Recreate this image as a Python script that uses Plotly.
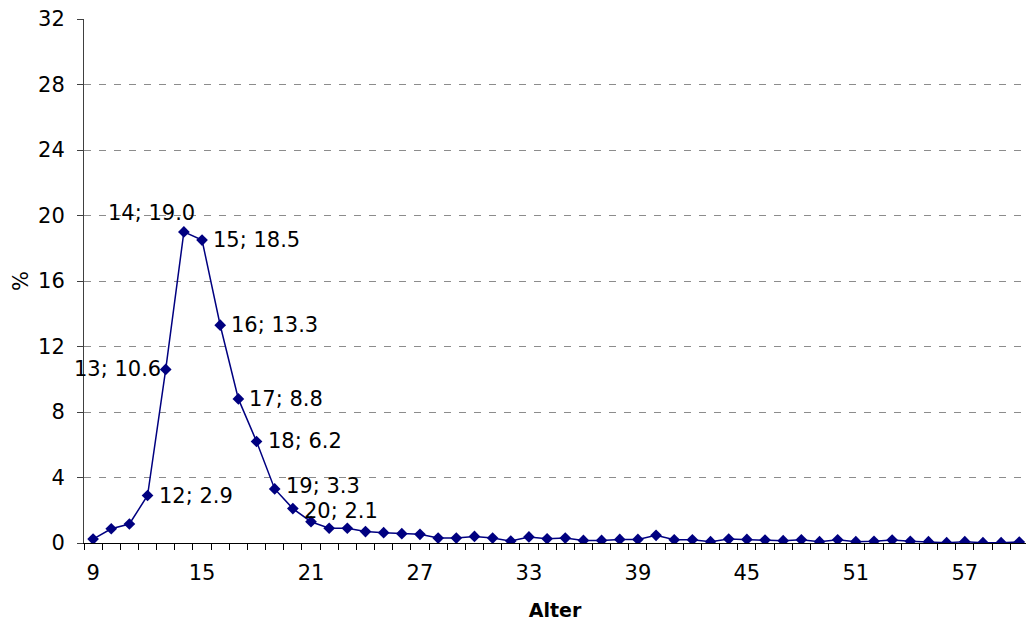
import plotly.graph_objects as go

# ---- data ----
ages = list(range(9, 61))
values = [0.24, 0.87, 1.16, 2.9, 10.6, 19.0, 18.5, 13.3, 8.8, 6.2,
          3.3, 2.1, 1.3, 0.9, 0.9, 0.7, 0.63, 0.57, 0.53, 0.3,
          0.3, 0.4, 0.3, 0.12, 0.37, 0.26, 0.3, 0.16, 0.16, 0.22,
          0.22, 0.47, 0.2, 0.2, 0.08, 0.24, 0.22, 0.18, 0.14, 0.2,
          0.08, 0.2, 0.08, 0.1, 0.18, 0.1, 0.08, 0.02, 0.08, 0.02,
          0.02, 0.06]
label_ages = [12, 13, 14, 15, 16, 17, 18, 19, 20]
label_values = [2.9, 10.6, 19.0, 18.5, 13.3, 8.8, 6.2, 3.3, 2.1]
x_tick_labels = [9, 15, 21, 27, 33, 39, 45, 51, 57]
y_ticks = [0, 4, 8, 12, 16, 20, 24, 28, 32]

FONT = "DejaVu Sans"
NAVY = "#000080"
FS = 21

# label placement styles (not data)
LABEL_STYLE = {
    13: dict(xanchor="right", yanchor="middle", xshift=-3, yshift=0),
    14: dict(xanchor="right", yanchor="middle", xshift=13, yshift=19),
    19: dict(xanchor="left", yanchor="middle", xshift=9, yshift=3),
    20: dict(xanchor="left", yanchor="middle", xshift=9, yshift=-2),
}
DEFAULT_STYLE = dict(xanchor="left", yanchor="middle", xshift=9, yshift=0)

fig = go.Figure()
fig.add_trace(go.Scatter(
    x=ages, y=values, mode="lines+markers",
    line=dict(color=NAVY, width=1.5),
    marker=dict(symbol="diamond", size=9, color=NAVY),
    showlegend=False, hoverinfo="x+y"))

for a, v in zip(label_ages, label_values):
    txt = f"{a}; {v:.1f}"
    kw = LABEL_STYLE.get(a, DEFAULT_STYLE)
    fig.add_annotation(x=a, y=v, text=txt, showarrow=False,
                       font=dict(family=FONT, size=FS, color="black"), **kw)

boundaries = [a - 0.5 for a in ages] + [ages[-1] + 0.5]

fig.update_layout(
    width=1026, height=621,
    margin=dict(l=84, r=0, t=19, b=78),
    paper_bgcolor="white", plot_bgcolor="white",
    font=dict(family=FONT, size=FS, color="black"),
    xaxis=dict(
        range=[ages[0] - 0.5, 60.37],
        tickmode="array", tickvals=x_tick_labels,
        ticktext=[str(t) for t in x_tick_labels],
        ticks="outside", ticklen=6, tickcolor="rgba(0,0,0,0)",
        ticklabelstandoff=5,
        showline=True, linecolor="black", linewidth=1,
        showgrid=False, zeroline=False,
        minor=dict(tickmode="array", tickvals=boundaries, ticks="outside",
                   ticklen=6, tickcolor="black", tickwidth=1, showgrid=False),
        title=dict(text="<b>Alter</b>", font=dict(family=FONT, size=19), standoff=20),
    ),
    yaxis=dict(
        range=[0, 32], tickmode="array", tickvals=y_ticks,
        ticks="outside", ticklen=6, tickcolor="#404040",
        ticklabelstandoff=8,
        showline=True, linecolor="#404040", linewidth=1,
        showgrid=True, gridcolor="#8c8c8c", griddash="7px,8px", gridwidth=1,
        zeroline=False,
        title=dict(text="%", font=dict(family=FONT, size=FS), standoff=3),
    ),
)

fig.write_html("out.html")
